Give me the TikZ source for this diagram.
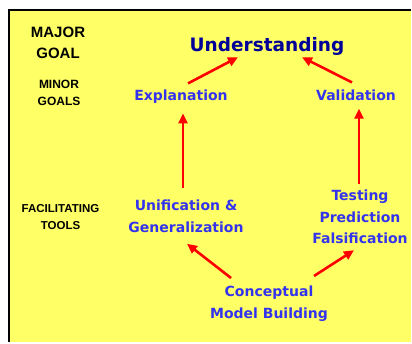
\documentclass[tikz,border=0pt]{standalone}
\usepackage{fontspec}
\setmainfont{DejaVu Sans}
\newfontfamily\etiqfont{Liberation Sans}
\usepackage{xcolor}
\usetikzlibrary{arrows.meta,calc}
\definecolor{jauneFond}{HTML}{FFFF66}
\definecolor{bleuTexte}{HTML}{3333EE}
\definecolor{bleuNuit}{HTML}{000099}
\definecolor{rougeFleche}{HTML}{FF0000}
\tikzset{
  but/.style={inner sep=0pt, anchor=north, align=center, text=bleuTexte,
    font=\fontsize{14}{21.5}\selectfont\bfseries},
  butMajeur/.style={inner sep=0pt, anchor=base, text=bleuNuit,
    font=\fontsize{18.5}{22}\selectfont\bfseries},
  niveau/.style={inner sep=0pt, anchor=north, align=center, text=black,
    font=\etiqfont\bfseries},
  fleche/.style={-{Triangle[length=10pt,width=9pt]}, draw=rougeFleche,
    line width=2.6pt}
}
\begin{document}
\begin{tikzpicture}[x=1pt, y=-1pt]
  \useasboundingbox (0,0) rectangle (412,343);
  \fill[jauneFond] (9,10) rectangle (411,342);
  \draw[line width=1.5pt] (9,342) -- (9,10) -- (411,10);

  % --- Niveaux (colonne de gauche)
  \node[niveau, font=\etiqfont\bfseries\fontsize{15}{21}\selectfont] (majeur) at (58,27) {MAJOR\\GOAL};
  \node[niveau, font=\etiqfont\bfseries\fontsize{12}{17}\selectfont] (mineur) at (59,80) {MINOR\\GOALS};
  \node[niveau, font=\etiqfont\bfseries\fontsize{11.5}{17}\selectfont] (outils) at (60.5,204) {FACILITATING\\TOOLS};

  % --- Buts
  \node[butMajeur] (comp) at (267,51) {Understanding};
  \node[but] (expl) at (181,89.4) {Explanation};
  \node[but] (valid) at (356,89.4) {Validation};
  \node[but] (unif) at (186,200) {Unification \&\\Generalization};
  \node[but] (test) at (360,190) {Testing\\Prediction\\Falsification};
  \node[but] (modele) at (269,286) {Conceptual\\Model Building};

  % --- Fleches
  \draw[fleche] ($(expl.north)+(7,-6)$) -- ($(comp.south)+(-29,2)$);
  \draw[fleche] ($(valid.north)+(-4,-7)$) -- ($(comp.south)+(35,2)$);
  \draw[fleche] ($(unif.north)+(-3,-12)$) -- ($(expl.south)+(2,10)$);
  \draw[fleche] ($(test.north)+(-1,-6)$) -- ($(valid.south)+(3,8)$);
  \draw[fleche] ($(modele.north)+(-38,-8)$) -- ($(unif.south)+(1,11)$);
  \draw[fleche] ($(modele.north)+(45,-10)$) -- ($(test.south)+(-6,6)$);

\end{tikzpicture}
\end{document}
